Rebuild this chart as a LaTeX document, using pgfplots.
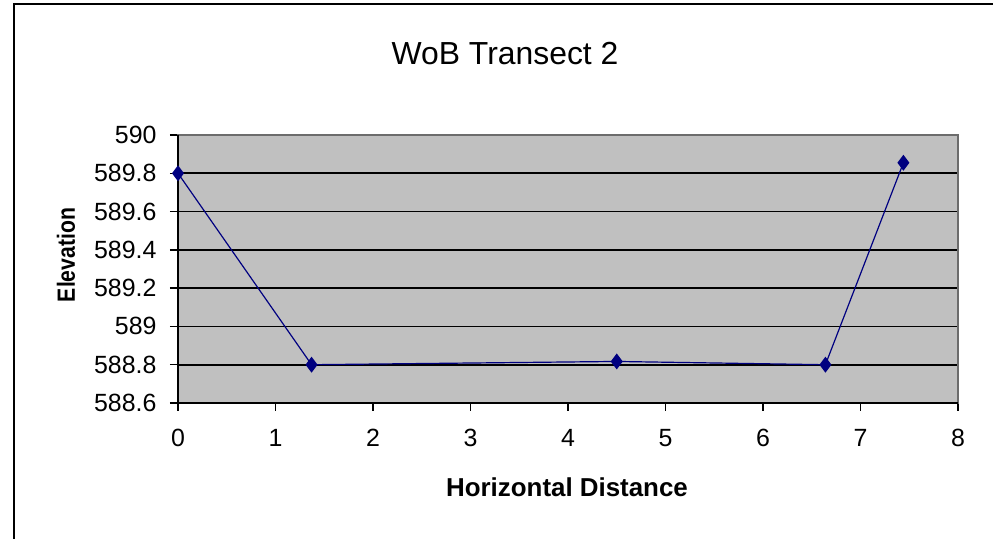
\documentclass[border=0pt]{standalone}
\usepackage{pgfplots}
\pgfplotsset{compat=1.18}
\usepackage{fontspec}
\setmainfont{Liberation Sans}
\newfontfamily\narrowbold[FakeStretch=0.85]{Liberation Sans Bold}
\definecolor{plotgray}{RGB}{192,192,192}
\definecolor{navyblue}{RGB}{0,0,128}
\begin{document}
\begin{tikzpicture}[x=1bp,y=1bp]
\begin{axis}[
  at={(0,0)}, anchor=south west,
  scale only axis, width=780bp, height=268bp,
  xmin=0, xmax=8, ymin=588.6, ymax=590,
  xtick={0,1,2,3,4,5,6,7,8},
  xticklabels={0,1,2,3,4,5,6,7,8},
  ytick={588.6,588.8,589,589.2,589.4,589.6,589.8,590},
  yticklabels={588.6,588.8,589,589.2,589.4,589.6,589.8,590},
  axis background/.style={fill=plotgray},
  ymajorgrids, grid style={black, line width=1.8pt},
  tick pos=left, tick align=outside, major tick length=8bp,
  tick style={black, line width=1.5pt},
  axis line style={draw=gray!85!black, line width=1.5pt},
  ticklabel style={font=\fontsize{25}{25}\selectfont},
  xticklabel style={yshift=-15bp},
  yticklabel style={xshift=-10bp},
  clip=false,
]
\addplot[color=navyblue, line width=1.2pt, mark=diamond*, mark size=7bp,
  mark options={fill=navyblue, draw=navyblue}]
  coordinates {(0,589.8) (1.37,588.8) (4.5,588.817) (6.64,588.8) (7.44,589.855)};
\draw[black, line width=2pt] (rel axis cs:0,1) -- (rel axis cs:0,0) -- (rel axis cs:1,0);
\end{axis}
\node[font=\fontsize{32}{32}\selectfont] at (327,349.5) {WoB Transect 2};
\node[font=\bfseries\fontsize{26}{26}\selectfont] at (389,-84) {Horizontal Distance};
\node[font=\narrowbold\fontsize{25}{25}\selectfont, rotate=90] at (-112,148) {Elevation};
\draw[black, line width=2bp] (-164,-136) -- (-164,399) -- (815,399);
\pgfresetboundingbox
\path (-178,-136) rectangle (815,403);
\end{tikzpicture}
\end{document}
